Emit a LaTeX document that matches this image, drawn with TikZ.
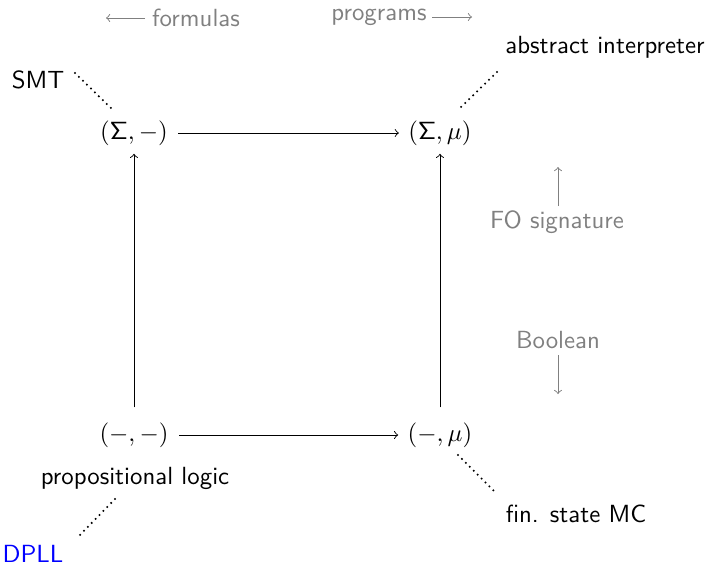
\documentclass[tikz,border=0pt]{standalone}
\usetikzlibrary{arrows}
\begin{document}
\begin{tikzpicture}[x=0.0155cm,y=-0.0155cm,
  every node/.style={font=\sffamily\fontsize{10.95pt}{13pt}\selectfont},
  obj/.style={inner sep=2pt},
  lbl/.style={inner sep=1pt},
  note/.style={text=gray, inner sep=1pt},
  map/.style={->},
  link/.style={line width=1pt, dash pattern=on 0pt off 2.45pt, line cap=round},
  hint/.style={->, gray}]
\useasboundingbox (0,0) rectangle (708,568);
% objects
\node[obj] (SN) at (134,133) {$(\mbox{Σ}, -)$};
\node[obj] (SM) at (440,133) {$(\mbox{Σ}, \mu)$};
\node[obj] (NN) at (134,435) {$(-, -)$};
\node[obj] (NM) at (440,435) {$(-, \mu)$};
% maps
\draw[map, shorten <=2.5pt, shorten >=2pt] (SN.east) -- (SM.west);
\draw[map, shorten <=2.5pt, shorten >=2pt] (NN.east) -- (NM.west);
\draw[map, shorten <=4.5pt, shorten >=1.5pt] (NN.north) -- (SN.south);
\draw[map, shorten <=4.5pt, shorten >=1.5pt] (NM.north) -- (SM.south);
% labels
\node[lbl] (smt) at (38,80) {SMT};
\node[lbl] (ai) at (605,47) {abstract interpreter};
\node[lbl] (pl) at (135,478) {propositional logic};
\node[lbl] (fs) at (576,514) {fin. state MC};
\node[lbl, text=blue] (dpll) at (33,554) {DPLL};
% dotted links
\coordinate (d1a) at (75,73); \coordinate (d1b) at (114,111);
\coordinate (d2a) at (497,72); \coordinate (d2b) at (458,110);
\coordinate (d3a) at (115,499); \coordinate (d3b) at (77,538);
\coordinate (d4a) at (458,455); \coordinate (d4b) at (496,493);
\draw[link] (d1a) -- (d1b);
\draw[link] (d2a) -- (d2b);
\draw[link] (d3a) -- (d3b);
\draw[link] (d4a) -- (d4b);
% hints
\node[note] (form) at (196,18) {formulas};
\node[note] (prog) at (379,17) {programs};
\coordinate (fa) at (145,18); \coordinate (fb) at (106,18);
\coordinate (pa) at (432,17); \coordinate (pb) at (472,17);
\draw[hint] (fa) -- (fb);
\draw[hint] (pa) -- (pb);
\node[note] (fo) at (557,222) {FO signature};
\node[note] (bool) at (558,340) {Boolean};
\coordinate (foa) at (558,206); \coordinate (fob) at (558,167);
\coordinate (boa) at (558,355); \coordinate (bob) at (558,394);
\draw[hint] (foa) -- (fob);
\draw[hint] (boa) -- (bob);
\end{tikzpicture}
\end{document}
